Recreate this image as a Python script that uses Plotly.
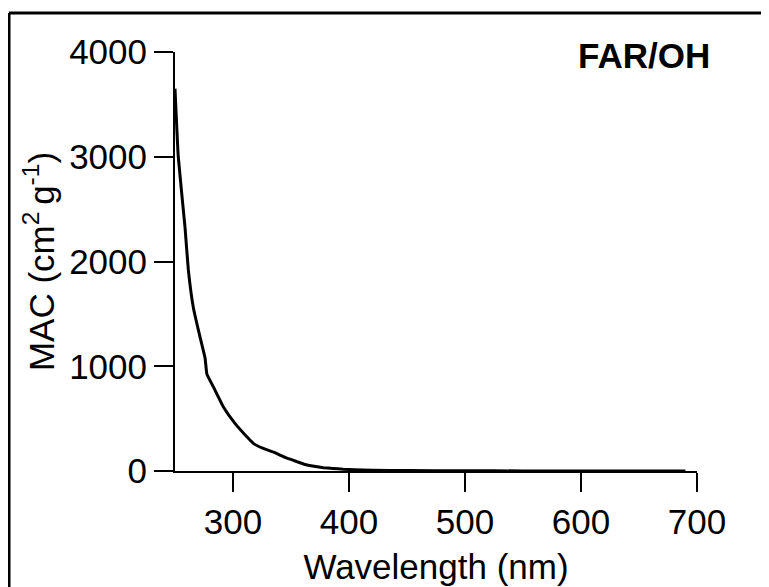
import plotly.graph_objects as go

wavelength = [250, 252.8, 258.6, 261.5, 265.8, 270.1, 275.9, 277.5, 283, 291.6, 301.7, 313.2,
              317.5, 325, 335, 345, 355, 362, 370, 378, 386, 395, 405, 420, 450, 500,
              550, 600, 650, 690]
mac = [3650, 3000, 2330, 1920, 1560, 1347, 1080, 925, 805, 614, 455, 312,
       264, 220, 180, 130, 90, 62, 45, 32, 24, 17, 12, 7, 4, 2,
       1, 1, 0.5, 0.5]

x_ticks = [300, 400, 500, 600, 700]
y_ticks = [0, 1000, 2000, 3000, 4000]

FONT = "Liberation Sans, Arial, sans-serif"
FS = 35

fig = go.Figure()
fig.add_trace(go.Scatter(x=wavelength, y=mac, mode="lines",
                         line=dict(color="black", width=3, shape="spline", smoothing=0.3),
                         showlegend=False, hoverinfo="skip"))

# page body has an 8px margin, so the figure is drawn 8px right/down
W, H = 761, 579
L, R, T, B = 167, 72, 44, 116
pw, ph = W - L - R, H - T - B

def px_to_paper_x(px):
    return (px - 8 - L) / pw

def px_to_paper_y(py):
    return (H - B - (py - 8)) / ph

bx, by = px_to_paper_x(9), px_to_paper_y(13)

fig.update_layout(
    width=W, height=H,
    margin=dict(l=L, r=R, t=T, b=B, autoexpand=False),
    paper_bgcolor="white", plot_bgcolor="white",
    font=dict(family=FONT, size=FS, color="black"),
    xaxis=dict(range=[250, 700], tickvals=x_ticks, ticks="outside", ticklen=19, tickwidth=2,
               tickcolor="black", showline=True, linecolor="black", linewidth=2,
               showgrid=False, zeroline=False, tickfont=dict(size=FS),
               title=dict(text="Wavelength (nm)", font=dict(size=FS), standoff=14)),
    yaxis=dict(range=[0, 4000], tickvals=y_ticks, ticks="outside", ticklen=19, tickwidth=2,
               tickcolor="black", showline=True, linecolor="black", linewidth=2,
               showgrid=False, zeroline=False, tickfont=dict(size=FS),
               title=dict(text="MAC (cm<sup>2 </sup>g<sup>-1</sup>)", font=dict(size=FS), standoff=4)),
    annotations=[dict(text="<b>FAR/OH</b>", xref="paper", yref="paper",
                      x=px_to_paper_x(712), y=px_to_paper_y(56), xanchor="right", yanchor="middle",
                      showarrow=False, font=dict(size=FS, family=FONT, color="black"))],
    shapes=[
        dict(type="line", xref="paper", yref="paper", x0=bx, x1=bx,
             y0=px_to_paper_y(600), y1=by, line=dict(color="black", width=3), layer="below"),
        dict(type="line", xref="paper", yref="paper", x0=bx, x1=px_to_paper_x(790),
             y0=by, y1=by, line=dict(color="black", width=3), layer="below"),
    ],
)

fig.write_html("out.html")
